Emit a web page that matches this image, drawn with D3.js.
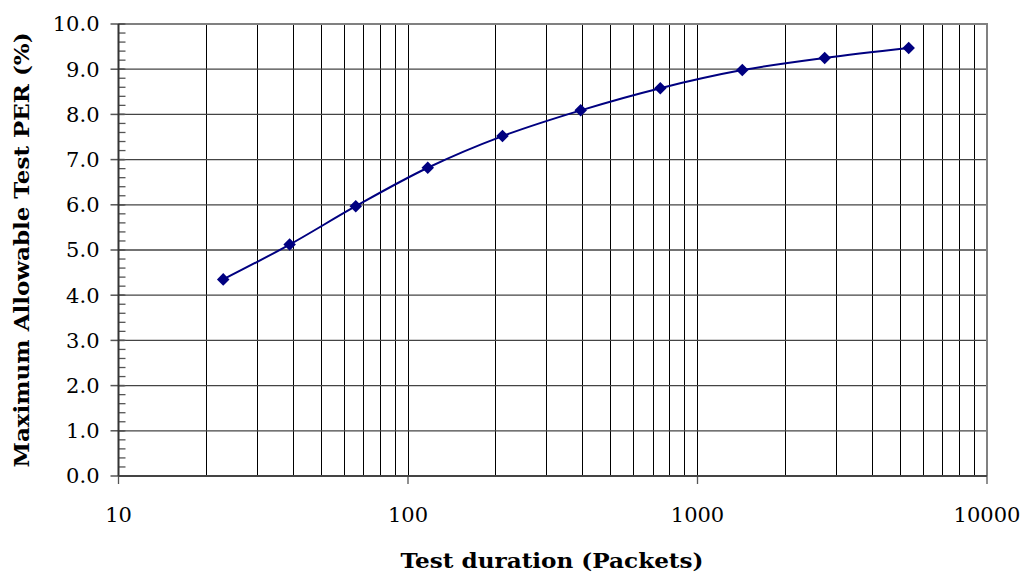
<!DOCTYPE html>
<html>
<head>
<meta charset="utf-8">
<script src="https://cdn.jsdelivr.net/npm/d3@7"></script>
<style>
  body { margin: 0; background: #fff; }
  svg { display: block; }
</style>
</head>
<body>
<script>
let w = 1024;
let h = 574;
let margin = {top: 24, right: 37, bottom: 98, left: 118.5};

// Data
let packets = [23, 39, 66, 117, 212, 395, 744, 1428, 2750, 5364];
let maxPer = [4.35, 5.12, 5.97, 6.82, 7.52, 8.09, 8.58, 8.98, 9.25, 9.47];
let xTickLabels = [10, 100, 1000, 10000];
let yTickLabels = [0, 1, 2, 3, 4, 5, 6, 7, 8, 9, 10];

let serif = "'DejaVu Serif', serif";

let xScale = d3.scaleLog()
  .domain([10, 10000])
  .range([margin.left, w - margin.right]);

let yScale = d3.scaleLinear()
  .domain([0, 10])
  .range([h - margin.bottom, margin.top]);

let svg = d3.select("body")
  .append("svg")
  .attr("width", w)
  .attr("height", h);

let x0 = xScale.range()[0], x1 = xScale.range()[1];
let y0 = yScale.range()[0], y1 = yScale.range()[1];

// every log tick between 10 and 10000
let logTicks = xScale.ticks();

// vertical grid lines
svg.append("g")
  .selectAll("line")
  .data(logTicks.filter(d => d > 10 && d < 10000))
  .enter()
  .append("line")
  .attr("x1", d => Math.round(xScale(d)) + 0.5)
  .attr("x2", d => Math.round(xScale(d)) + 0.5)
  .attr("y1", y1)
  .attr("y2", y0)
  .attr("stroke", "#000")
  .attr("stroke-width", 1);

// horizontal grid lines
svg.append("g")
  .selectAll("line")
  .data(yTickLabels.filter(d => d > 0 && d < 10))
  .enter()
  .append("line")
  .attr("x1", x0)
  .attr("x2", x1)
  .attr("y1", d => yScale(d))
  .attr("y2", d => yScale(d))
  .attr("stroke", "#444")
  .attr("stroke-width", 1.3);

// plot border (top + right)
svg.append("path")
  .attr("d", `M${x0},${y1}H${x1}V${y0}`)
  .attr("fill", "none")
  .attr("stroke", "#808080")
  .attr("stroke-width", 2);

// y axis: minor ticks inside, major ticks across
let yMinor = d3.range(0, 10.01, 0.2);
svg.append("g")
  .selectAll("line")
  .data(yMinor)
  .enter()
  .append("line")
  .attr("x1", x0)
  .attr("x2", x0 + 7)
  .attr("y1", d => yScale(d))
  .attr("y2", d => yScale(d))
  .attr("stroke", "#555")
  .attr("stroke-width", 1.3);

svg.append("g")
  .selectAll("line")
  .data(yTickLabels)
  .enter()
  .append("line")
  .attr("x1", x0 - 8)
  .attr("x2", x0 + 6)
  .attr("y1", d => yScale(d))
  .attr("y2", d => yScale(d))
  .attr("stroke", "#555")
  .attr("stroke-width", 1.5);

svg.append("g")
  .selectAll("text")
  .data(yTickLabels)
  .enter()
  .append("text")
  .text(d => d.toFixed(1))
  .attr("x", x0 - 19)
  .attr("y", d => yScale(d))
  .attr("dy", "0.35em")
  .attr("text-anchor", "end")
  .attr("font-family", serif)
  .attr("font-size", "21px")
  .attr("fill", "#000");

// x axis major ticks below
svg.append("g")
  .selectAll("line")
  .data(xTickLabels)
  .enter()
  .append("line")
  .attr("x1", d => xScale(d))
  .attr("x2", d => xScale(d))
  .attr("y1", y0)
  .attr("y2", y0 + 8)
  .attr("stroke", "#555")
  .attr("stroke-width", 1.3);

svg.append("g")
  .selectAll("text")
  .data(xTickLabels)
  .enter()
  .append("text")
  .text(d => d)
  .attr("x", d => xScale(d))
  .attr("y", 522)
  .attr("text-anchor", "middle")
  .attr("font-family", serif)
  .attr("font-size", "21px")
  .attr("fill", "#000");

// axis lines
svg.append("line")
  .attr("x1", x0).attr("x2", x0)
  .attr("y1", y1).attr("y2", y0)
  .attr("stroke", "#333")
  .attr("stroke-width", 2);
svg.append("line")
  .attr("x1", x0).attr("x2", x1)
  .attr("y1", y0).attr("y2", y0)
  .attr("stroke", "#444")
  .attr("stroke-width", 2);

// smoothed line
let points = packets.map((p, i) => [p, maxPer[i]]);
let line = d3.line()
  .x(d => xScale(d[0]))
  .y(d => yScale(d[1]))
  .curve(d3.curveCatmullRom.alpha(0.5));

svg.append("path")
  .datum(points)
  .attr("d", line)
  .attr("fill", "none")
  .attr("stroke", "#000080")
  .attr("stroke-width", 2);

// diamond markers
let diamond = d3.symbol().type(d3.symbolDiamond2).size(100);
svg.append("g")
  .selectAll("path")
  .data(points)
  .enter()
  .append("path")
  .attr("d", diamond)
  .attr("transform", d => `translate(${xScale(d[0])},${yScale(d[1])})`)
  .attr("fill", "#000080");

// axis titles
svg.append("text")
  .text("Test duration (Packets)")
  .attr("x", 552)
  .attr("y", 568)
  .attr("text-anchor", "middle")
  .attr("font-family", serif)
  .attr("font-weight", "bold")
  .attr("font-size", "20px")
  .attr("textLength", 303)
  .attr("lengthAdjust", "spacingAndGlyphs")
  .attr("fill", "#000");

svg.append("text")
  .text("Maximum Allowable Test PER (%)")
  .attr("transform", "translate(29,250) rotate(-90)")
  .attr("text-anchor", "middle")
  .attr("font-family", serif)
  .attr("font-weight", "bold")
  .attr("font-size", "20px")
  .attr("textLength", 435)
  .attr("lengthAdjust", "spacingAndGlyphs")
  .attr("fill", "#000");
</script>
</body>
</html>
